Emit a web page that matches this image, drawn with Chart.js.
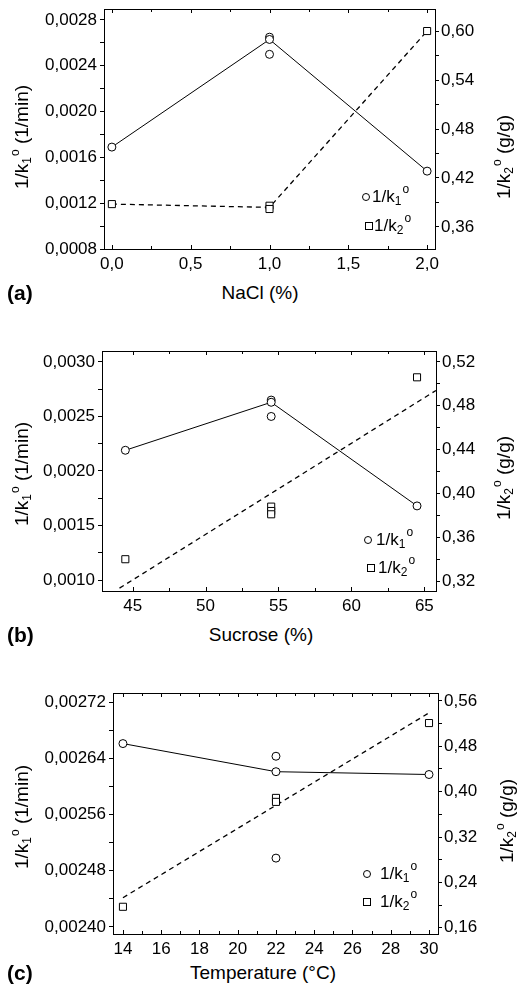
<!DOCTYPE html>
<html>
<head>
<meta charset="utf-8">
<script src="https://cdn.jsdelivr.net/npm/chart.js@4.4.0/dist/chart.umd.min.js"></script>
<style>
  body { margin: 0; background: #fff; }
  #fig { position: relative; width: 517px; height: 992px; font-family: "Liberation Sans", Arial, Helvetica, sans-serif; color: #000; overflow: hidden; }
  #fig canvas { position: absolute; left: 0; }
  .t { position: absolute; white-space: nowrap; font-size: 19px; line-height: 22px; }
  .t sub { font-size: 12px; vertical-align: -3px; line-height: 0; }
  .t sup { font-size: 12px; vertical-align: 9px; line-height: 0; margin-left: 1px; }
  .rot { transform: translate(-50%, -50%) rotate(-90deg); }
  .ctr { transform: translate(-50%, -50%); }
  .lab { font-weight: bold; font-size: 21px; transform: translateY(-50%); }
  .leg { font-size: 17px; }
  .mk { position: absolute; width: 6px; height: 6px; border: 1px solid #000; transform: translate(-50%, -50%); background: #fff; }
  .mk.c { border-radius: 50%; }
</style>
</head>
<body>
<div id="fig">
  <canvas id="chartA" width="517" height="280" style="top:0px"></canvas>
  <canvas id="chartB" width="517" height="300" style="top:320px"></canvas>
  <canvas id="chartC" width="517" height="300" style="top:660px"></canvas>

  <!-- (a) -->
  <div class="t rot" style="left:22px;top:137px">1/k<sub>1</sub><sup>o</sup> (1/min)</div>
  <div class="t rot" style="left:504px;top:157px">1/k<sub>2</sub><sup>o</sup> (g/g)</div>
  <div class="t ctr" style="left:260px;top:293px">NaCl (%)</div>
  <div class="t lab" style="left:7px;top:293px">(a)</div>
  <div class="mk c" style="left:366px;top:197px"></div>
  <div class="t leg" style="left:372px;top:186px">1/k<sub>1</sub><sup>o</sup></div>
  <div class="mk" style="left:369px;top:226px"></div>
  <div class="t leg" style="left:374px;top:215px">1/k<sub>2</sub><sup>o</sup></div>

  <!-- (b) -->
  <div class="t rot" style="left:22px;top:474px">1/k<sub>1</sub><sup>o</sup> (1/min)</div>
  <div class="t rot" style="left:504px;top:478px">1/k<sub>2</sub><sup>o</sup> (g/g)</div>
  <div class="t ctr" style="left:261px;top:635px">Sucrose (%)</div>
  <div class="t lab" style="left:7px;top:635px">(b)</div>
  <div class="mk c" style="left:368px;top:540px"></div>
  <div class="t leg" style="left:376px;top:529px">1/k<sub>1</sub><sup>o</sup></div>
  <div class="mk" style="left:371px;top:568px"></div>
  <div class="t leg" style="left:378px;top:557px">1/k<sub>2</sub><sup>o</sup></div>

  <!-- (c) -->
  <div class="t rot" style="left:22px;top:817px">1/k<sub>1</sub><sup>o</sup> (1/min)</div>
  <div class="t rot" style="left:507px;top:821px">1/k<sub>2</sub><sup>o</sup> (g/g)</div>
  <div class="t ctr" style="left:263px;top:973px">Temperature (°C)</div>
  <div class="t lab" style="left:7px;top:973px">(c)</div>
  <div class="mk c" style="left:367px;top:874px"></div>
  <div class="t leg" style="left:380px;top:863px">1/k<sub>1</sub><sup>o</sup></div>
  <div class="mk" style="left:367px;top:902px"></div>
  <div class="t leg" style="left:380px;top:891px">1/k<sub>2</sub><sup>o</sup></div>
</div>

<script>
// ─── data ───────────────────────────────────────────────────────────────────
// (a) NaCl
const NACL_K1_X   = [0, 1, 1, 1, 2];
const NACL_K1     = [0.00169, 0.00265, 0.00263, 0.00250, 0.00148];
const NACL_K2_X   = [0, 1, 1, 2];
const NACL_K2     = [0.388, 0.386, 0.382, 0.600];
const NACL_LINE_X = [0, 1, 2];
const NACL_K1_LINE = [0.00169, 0.00263, 0.00148];
const NACL_K2_LINE = [0.388, 0.384, 0.600];

// (b) Sucrose
const SUC_K1_X   = [44.5, 54.5, 54.5, 54.5, 64.5];
const SUC_K1     = [0.00219, 0.00265, 0.00263, 0.00250, 0.00168];
const SUC_K2_X   = [44.5, 54.5, 54.5, 54.5, 64.5];
const SUC_K2     = [0.340, 0.388, 0.384, 0.381, 0.506];
const SUC_K1_LINE_X = [44.5, 54.5, 64.5];
const SUC_K1_LINE   = [0.00219, 0.00263, 0.00168];
const SUC_FIT_X  = [44.1, 65.8];
const SUC_FIT    = [0.3136, 0.494];

// (c) Temperature
const TEMP_K1_X  = [14, 22, 22, 22, 30];
const TEMP_K1    = [0.002661, 0.002643, 0.002621, 0.002498, 0.002617];
const TEMP_K2_X  = [14, 22, 22, 30];
const TEMP_K2    = [0.197, 0.389, 0.382, 0.521];
const TEMP_K1_LINE_X = [14, 22, 30];
const TEMP_K1_LINE   = [0.002661, 0.002621, 0.002617];
const TEMP_FIT_X = [14, 30.1];
const TEMP_FIT   = [0.213, 0.541];

Chart.defaults.font.family = '"Liberation Sans", Arial, Helvetica, sans-serif';
Chart.defaults.font.size = 17;
Chart.defaults.color = '#000';

const pts = (xs, ys) => xs.map((x, i) => ({ x: x, y: ys[i] }));

// label only the major ticks, decimal comma
function fmt(dec, major) {
  return v => {
    const r = v / major;
    if (Math.abs(r - Math.round(r)) > 1e-6) return '';
    return v.toFixed(dec).replace('.', ',');
  };
}

// top border + inward x ticks (bottom and top)
const frame = {
  id: 'frame',
  afterDraw(chart) {
    const { ctx, chartArea: a } = chart;
    const x = chart.scales.x;
    ctx.save();
    ctx.strokeStyle = '#000';
    ctx.lineWidth = 1;
    ctx.beginPath();
    ctx.moveTo(a.left, a.top + 0.5);
    ctx.lineTo(a.right, a.top + 0.5);
    x.ticks.forEach(t => {
      const px = Math.round(x.getPixelForValue(t.value)) + 0.5;
      const len = t.label !== '' ? 4 : 3;
      ctx.moveTo(px, a.bottom); ctx.lineTo(px, a.bottom - len);
      ctx.moveTo(px, a.top); ctx.lineTo(px, a.top + len);
    });
    ctx.stroke();
    ctx.restore();
  }
};

function fixW(w) {
  return s => { s.width = w; s.paddingTop = s.paddingBottom = 0; s.paddingLeft = s.paddingRight = 0; };
}
function fixH(h) {
  return s => { s.height = h; s.paddingTop = s.paddingBottom = 0; s.paddingLeft = s.paddingRight = 0; };
}

function makeChart(id, g, sets, ax) {
  const circle = { pointStyle: 'circle', pointRadius: 4, pointBorderWidth: 1, pointBorderColor: '#000', pointBackgroundColor: '#fff', showLine: false };
  const square = { pointStyle: 'rect', pointRadius: 5, pointBorderWidth: 1, pointBorderColor: '#000', pointBackgroundColor: '#fff', showLine: false };
  const yAxis = (pos, s, w, pad) => ({
    type: 'linear', position: pos, min: s.min, max: s.max,
    afterFit: fixW(w),
    border: { display: true, color: '#000', width: 1 },
    grid: { drawOnChartArea: false, drawTicks: true, tickLength: 4, color: '#000' },
    ticks: { stepSize: s.step, includeBounds: false, autoSkip: false, padding: pad, callback: fmt(s.dec, s.major) }
  });
  new Chart(document.getElementById(id), {
    type: 'scatter',
    data: {
      datasets: [
        Object.assign({ data: pts(sets.k1x, sets.k1), yAxisID: 'y' }, circle),
        Object.assign({ data: pts(sets.k2x, sets.k2), yAxisID: 'y2' }, square),
        { data: pts(sets.l1x, sets.l1), yAxisID: 'y', showLine: true, pointRadius: 0, borderColor: '#000', borderWidth: 1 },
        { data: pts(sets.l2x, sets.l2), yAxisID: 'y2', showLine: true, pointRadius: 0, borderColor: '#000', borderWidth: 1.3, borderDash: [5, 4] }
      ]
    },
    options: {
      responsive: false,
      animation: false,
      devicePixelRatio: 1,
      layout: { padding: { top: g.top, left: 0, right: 0, bottom: 0 } },
      plugins: { legend: { display: false }, tooltip: { enabled: false } },
      scales: {
        x: {
          type: 'linear', position: 'bottom', min: ax.x.min, max: ax.x.max,
          afterFit: fixH(g.h - g.bottom),
          border: { display: true, color: '#000', width: 1 },
          grid: { drawOnChartArea: false, drawTicks: false },
          ticks: { stepSize: ax.x.step, includeBounds: false, autoSkip: false, maxRotation: 0, padding: 5, callback: fmt(ax.x.dec, ax.x.major) }
        },
        y: yAxis('left', ax.y, g.left, 3),
        y2: yAxis('right', ax.y2, 517 - g.right, 2)
      }
    },
    plugins: [frame]
  });
}

makeChart('chartA', { top: 9, bottom: 249, h: 280, left: 104, right: 435 },
  { k1x: NACL_K1_X, k1: NACL_K1, k2x: NACL_K2_X, k2: NACL_K2,
    l1x: NACL_LINE_X, l1: NACL_K1_LINE, l2x: NACL_LINE_X, l2: NACL_K2_LINE },
  { x:  { min: -0.05, max: 2.05, step: 0.25, major: 0.5, dec: 1 },
    y:  { min: 0.0008, max: 0.002896, step: 0.0002, major: 0.0004, dec: 4 },
    y2: { min: 0.333, max: 0.627, step: 0.03, major: 0.06, dec: 2 } });

makeChart('chartB', { top: 31, bottom: 271, h: 300, left: 102, right: 436 },
  { k1x: SUC_K1_X, k1: SUC_K1, k2x: SUC_K2_X, k2: SUC_K2,
    l1x: SUC_K1_LINE_X, l1: SUC_K1_LINE, l2x: SUC_FIT_X, l2: SUC_FIT },
  { x:  { min: 42.9, max: 65.8, step: 2.5, major: 5, dec: 0 },
    y:  { min: 0.0009, max: 0.0031, step: 0.00025, major: 0.0005, dec: 4 },
    y2: { min: 0.311, max: 0.530, step: 0.02, major: 0.04, dec: 2 } });

makeChart('chartC', { top: 33, bottom: 274, h: 300, left: 113, right: 438 },
  { k1x: TEMP_K1_X, k1: TEMP_K1, k2x: TEMP_K2_X, k2: TEMP_K2,
    l1x: TEMP_K1_LINE_X, l1: TEMP_K1_LINE, l2x: TEMP_FIT_X, l2: TEMP_FIT },
  { x:  { min: 13.48, max: 30.47, step: 1, major: 2, dec: 0 },
    y:  { min: 0.00239, max: 0.002733, step: 0.00004, major: 0.00008, dec: 5 },
    y2: { min: 0.149, max: 0.574, step: 0.04, major: 0.08, dec: 2 } });
</script>
</body>
</html>
